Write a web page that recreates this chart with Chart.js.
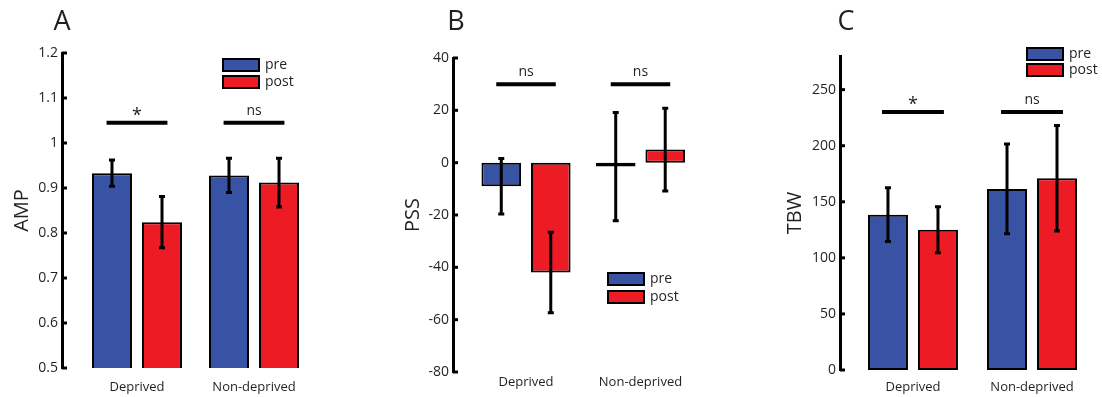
<!DOCTYPE html>
<html>
<head>
<meta charset="utf-8">
<script src="https://cdn.jsdelivr.net/npm/chart.js@4.4.0/dist/chart.umd.min.js"></script>
<style>
  body { margin: 0; background: #fff; }
  .panel { position: absolute; top: 0; height: 397px; }
</style>
</head>
<body>
<div class="panel" style="left:0;width:330px"><canvas id="chartA"></canvas></div>
<div class="panel" style="left:370px;width:340px"><canvas id="chartB"></canvas></div>
<div class="panel" style="left:740px;width:362px"><canvas id="chartC"></canvas></div>
<script>
const groups = ['Deprived', 'Non-deprived'];
const seriesNames = ['pre', 'post'];
const colors = ['#3953a4', '#ed1c24'];

// AMP
const ampPre = [0.933, 0.928];
const ampPost = [0.824, 0.912];
const ampPreErr = [0.029, 0.038];
const ampPostErr = [0.057, 0.054];
const ampSig = ['*', 'ns'];
const ampSigLevel = 1.045;

// PSS
const pssPre = [-9, -1.5];
const pssPost = [-42, 5];
const pssPreErr = [10.6, 20.7];
const pssPostErr = [15.4, 15.8];
const pssSig = ['ns', 'ns'];
const pssSigLevel = 30;

// TBW
const tbwPre = [138.5, 161.5];
const tbwPost = [125, 171];
const tbwPreErr = [24, 40];
const tbwPostErr = [20.5, 47];
const tbwSig = ['*', 'ns'];
const tbwSigLevel = 230;

const ink = '#231f20';
Chart.defaults.font.family = "'Open Sans', sans-serif";
Chart.defaults.color = ink;

// error bars on top of each bar
const errorBars = {
  id: 'errorBars',
  afterDatasetsDraw(chart) {
    const ctx = chart.ctx, y = chart.scales.y;
    ctx.save();
    ctx.strokeStyle = '#000';
    ctx.lineWidth = 3;
    chart.data.datasets.forEach((ds, di) => {
      chart.getDatasetMeta(di).data.forEach((bar, i) => {
        const v = ds.data[i].y, e = ds.errors[i];
        const t = y.getPixelForValue(v + e), b = y.getPixelForValue(v - e);
        ctx.beginPath();
        ctx.moveTo(bar.x, t); ctx.lineTo(bar.x, b);
        ctx.moveTo(bar.x - 3, t); ctx.lineTo(bar.x + 3, t);
        ctx.moveTo(bar.x - 3, b); ctx.lineTo(bar.x + 3, b);
        ctx.stroke();
      });
    });
    ctx.restore();
  }
};

// significance line + label over each group, short inward ticks, legend, panel letter
const decor = {
  id: 'decor',
  afterDraw(chart, args, opts) {
    const ctx = chart.ctx, x = chart.scales.x, y = chart.scales.y;
    ctx.save();
    // ticks pointing into the plot
    ctx.strokeStyle = '#000';
    ctx.lineWidth = 3;
    y.ticks.forEach((t, i) => {
      const py = y.getPixelForTick(i);
      ctx.beginPath(); ctx.moveTo(y.right, py); ctx.lineTo(y.right + 5, py); ctx.stroke();
    });
    // significance
    const sy = y.getPixelForValue(opts.sigLevel);
    ctx.lineWidth = 4;
    ctx.fillStyle = ink;
    ctx.textAlign = 'center';
    ctx.textBaseline = 'middle';
    opts.sig.forEach((s, i) => {
      const x0 = x.getPixelForValue(i + 1 - 0.26), x1 = x.getPixelForValue(i + 1 + 0.26);
      ctx.beginPath(); ctx.moveTo(x0, sy); ctx.lineTo(x1, sy); ctx.stroke();
      const xc = (x0 + x1) / 2;
      if (s === '*') {
        ctx.font = "18px 'Open Sans'";
        ctx.fillText(s, xc, sy - 7);
      } else {
        ctx.font = "14px 'Open Sans'";
        ctx.fillText(s, xc, sy - 12);
      }
    });
    // legend
    ctx.textAlign = 'left';
    ctx.font = "14px 'Open Sans'";
    ctx.lineWidth = 2;
    chart.data.datasets.forEach((ds, i) => {
      const top = opts.legend.y + i * opts.legend.gap;
      ctx.fillStyle = ds.backgroundColor;
      ctx.fillRect(opts.legend.x, top, 36, 12);
      ctx.strokeRect(opts.legend.x, top, 36, 12);
      ctx.fillStyle = ink;
      ctx.fillText(ds.label, opts.legend.x + 42, top + 6);
    });
    // panel letter
    ctx.textAlign = 'center';
    ctx.font = "27px 'Open Sans'";
    ctx.fillText(opts.letter, opts.letterX, 22);
    ctx.restore();
  }
};

function makePanel(id, p) {
  const series = [[p.pre, p.preErr], [p.post, p.postErr]];
  new Chart(document.getElementById(id), {
    type: 'bar',
    data: {
      datasets: series.map(([vals, errs], k) => ({
        label: seriesNames[k],
        data: vals.map((v, i) => ({ x: i + 1, y: v })),
        errors: errs,
        backgroundColor: colors[k],
        borderColor: '#000',
        borderWidth: 2,
        borderSkipped: false,
        categoryPercentage: p.catPct,
        barPercentage: 0.8
      }))
    },
    options: {
      responsive: true,
      maintainAspectRatio: false,
      animation: false,
      layout: { padding: { top: p.top, right: 10, bottom: 0, left: 0 } },
      plugins: {
        legend: { display: false },
        tooltip: { enabled: false },
        decor: { sig: p.sig, sigLevel: p.sigLevel, legend: p.legend, letter: p.letter, letterX: p.letterX }
      },
      scales: {
        x: {
          type: 'linear',
          bounds: 'data',
          offset: false,
          min: p.xMin,
          max: p.xMax,
          grid: { display: false, offset: false },
          border: { display: false },
          ticks: { padding: p.xPad, font: { size: 13 }, autoSkip: false, maxRotation: 0, callback: v => groups[v - 1] || '' },
          afterBuildTicks: s => { s.ticks = groups.map((g, i) => ({ value: i + 1 })); },
          afterFit: s => { s.height = p.xHeight; }
        },
        y: {
          bounds: 'data',
          min: p.yMin,
          max: p.yMax,
          ticks: { stepSize: p.step, padding: 4, font: { size: 14 }, callback: v => String(+v.toFixed(4)) },
          afterBuildTicks: s => { s.ticks = s.ticks.filter(t => Math.abs(t.value / p.step - Math.round(t.value / p.step)) < 1e-6); },
          grid: { display: false, drawTicks: false },
          border: { display: true, width: 3, color: '#000' },
          title: { display: true, text: p.yTitle, font: { size: 20 }, padding: { top: p.titlePad } },
          afterFit: s => { s.width = p.yWidth; }
        }
      }
    },
    plugins: [errorBars, decor]
  });
}

makePanel('chartA', {
  pre: ampPre, post: ampPost, preErr: ampPreErr, postErr: ampPostErr,
  sig: ampSig, sigLevel: ampSigLevel, yTitle: 'AMP', letter: 'A', letterX: 62,
  yMin: 0.5, yMax: 1.2, step: 0.1, xMin: 0.359, xMax: 2.564, catPct: 0.855,
  top: 53, xHeight: 29, xPad: 3, yWidth: 62, titlePad: 10,
  legend: { x: 223, y: 59, gap: 17 }
});

makePanel('chartB', {
  pre: pssPre, post: pssPost, preErr: pssPreErr, postErr: pssPostErr,
  sig: pssSig, sigLevel: pssSigLevel, yTitle: 'PSS', letter: 'B', letterX: 86,
  yMin: -80, yMax: 40, step: 20, xMin: 0.362, xMax: 2.52, catPct: 0.865,
  top: 58, xHeight: 25, xPad: -6, yWidth: 83, titlePad: 31.5,
  legend: { x: 238, y: 273, gap: 18 }
});

makePanel('chartC', {
  pre: tbwPre, post: tbwPost, preErr: tbwPreErr, postErr: tbwPostErr,
  sig: tbwSig, sigLevel: tbwSigLevel, yTitle: 'TBW', letter: 'C', letterX: 106,
  yMin: 0, yMax: 280, step: 50, xMin: 0.387, xMax: 2.504, catPct: 0.84,
  top: 56, xHeight: 27, xPad: 1, yWidth: 100, titlePad: 43.5,
  legend: { x: 287, y: 48, gap: 16 }
});
</script>
</body>
</html>
